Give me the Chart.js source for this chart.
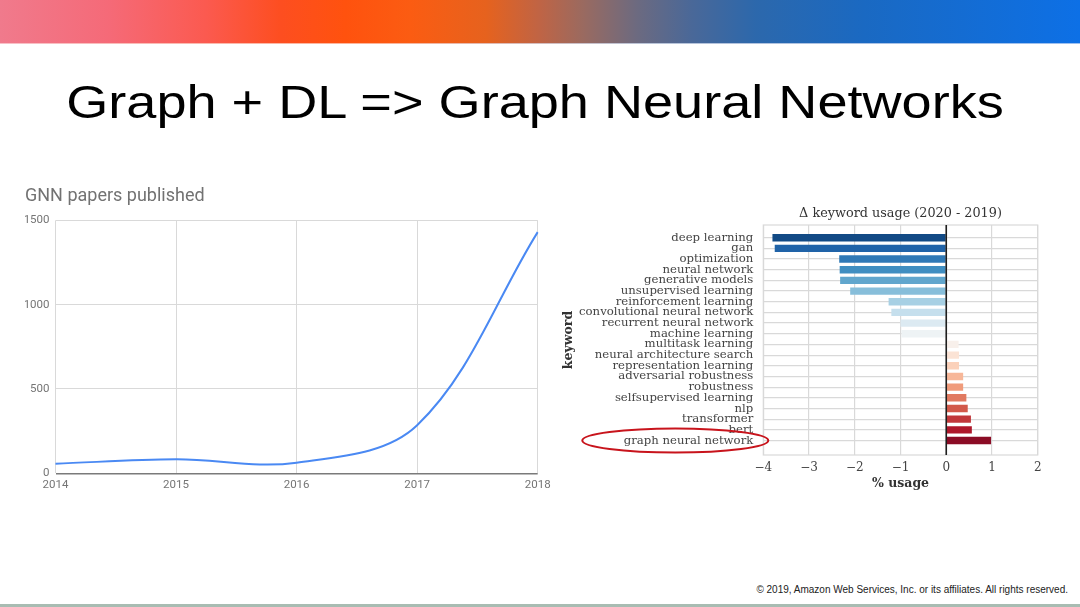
<!DOCTYPE html>
<html>
<head>
<meta charset="utf-8">
<script src="https://cdn.jsdelivr.net/npm/chart.js@4.4.1/dist/chart.umd.min.js"></script>
<style>
  body { margin: 0; background: #fff; }
  #slide { position: relative; width: 1080px; height: 607px; overflow: hidden; background: #fff; }
  #topbar { position: absolute; left: 0; top: 0; width: 1080px; height: 43px;
    background: linear-gradient(90deg, #f07a8c 0%, #f56a78 10%, #fb5a50 19%, #fd4e20 26%, #ff520e 32%, #fb5c12 38%,
      #e6621e 45%, #bf6445 50%, #9a6a60 54%, #6c6a80 59%, #4a6898 64%, #2c68ac 70%, #1a69c2 80%, #0d70e6 100%); }
  #topline { position: absolute; left: 0; top: 43px; width: 1080px; height: 1px;
    background: linear-gradient(90deg, #f8c0c8, #fcb59a 35%, #b9c4d8 60%, #9cc0f0); }
  #title { position: absolute; left: 0; width: 1070px; top: 79px; text-align: center;
    font-family: "Liberation Sans", Arial, sans-serif; font-size: 46px; line-height: 46px; color: #000;
    transform: scaleX(1.176); transform-origin: 535px 0; }
  #footer { position: absolute; right: 12px; top: 584px; font-family: "Liberation Sans", Arial, sans-serif;
    font-size: 10px; color: #222; }
  #bottomline { position: absolute; left: 0; top: 604px; width: 1080px; height: 3px; background: #a8bcb2; }
  #leftBox { position: absolute; left: 25px; top: 180px; width: 535px; height: 320px; }
  #rightBox { position: absolute; left: 555px; top: 200px; width: 495px; height: 300px; }
</style>
</head>
<body>
<div id="slide">
  <div id="topbar"></div>
  <div id="topline"></div>
  <div id="title">Graph + DL =&gt; Graph Neural Networks</div>
  <div id="leftBox"><canvas id="papersChart" width="535" height="320"></canvas></div>
  <div id="rightBox"><canvas id="keywordChart" width="495" height="300"></canvas></div>
  <div id="footer">© 2019, Amazon Web Services, Inc. or its affiliates. All rights reserved.</div>
  <div id="bottomline"></div>
</div>
<script>
// GNN papers per year
const years = ['2014', '2015', '2016', '2017', '2018'];
const papers = [57, 83, 63, 285, 1430];
const paperTicks = [0, 500, 1000, 1500];

// change in keyword usage, 2020 vs 2019
const keywords = [
  'deep learning',
  'gan',
  'optimization',
  'neural network',
  'generative models',
  'unsupervised learning',
  'reinforcement learning',
  'convolutional neural network',
  'recurrent neural network',
  'machine learning',
  'multitask learning',
  'neural architecture search',
  'representation learning',
  'adversarial robustness',
  'robustness',
  'selfsupervised learning',
  'nlp',
  'transformer',
  'bert',
  'graph neural network'
];
const deltaUsage = [-3.80, -3.75, -2.34, -2.33, -2.32, -2.10, -1.26, -1.20, -1.00, -0.98,
  0.27, 0.28, 0.28, 0.37, 0.37, 0.44, 0.47, 0.54, 0.56, 0.98];
const usageTicks = [-4, -3, -2, -1, 0, 1, 2];

// RdBu_r style colours, one per bar
const barColors = ['#124a85', '#2063a8', '#3079b6', '#408ec1', '#61a6cd', '#87beda', '#a7d0e4', '#c5dfed',
  '#dceaf2', '#eef3f5', '#f8f0eb', '#fbe3d5', '#fbd1ba', '#f7b799', '#f09b7b', '#e17a61', '#d2594a',
  '#c1373a', '#ae172a', '#8b0c25'];

//left chart : line
new Chart(document.getElementById('papersChart'), {
  type: 'line',
  data: {
    labels: years,
    datasets: [{
      data: papers,
      borderColor: '#4a89f3',
      borderWidth: 2,
      pointRadius: 0,
      tension: 0.35,
      fill: false
    }]
  },
  options: {
    responsive: false,
    animation: false,
    layout: { padding: { left: 0, right: 22.3, top: 0, bottom: 0 } },
    plugins: {
      legend: { display: false },
      tooltip: { enabled: false },
      title: {
        display: true,
        text: 'GNN papers published',
        align: 'start',
        color: '#727272',
        font: { family: 'Roboto', size: 18, weight: 'normal' },
        padding: { top: 6, bottom: 12.7 }
      }
    },
    scales: {
      x: {
        offset: false,
        grid: { color: '#d9d9d9', drawTicks: false, offset: false },
        border: { display: false },
        ticks: { color: '#757575', font: { family: 'Roboto', size: 11.5 }, padding: 5, maxRotation: 0 },
        afterFit: function(scale) { scale.height = 26.7; }
      },
      y: {
        min: 0,
        max: 1500,
        grid: {
          drawTicks: false,
          color: function(c) { return c.tick && c.tick.value === 0 ? '#7a7a7a' : '#d9d9d9'; },
          lineWidth: function(c) { return c.tick && c.tick.value === 0 ? 1.6 : 1; }
        },
        border: { display: false },
        afterBuildTicks: function(axis) { axis.ticks = paperTicks.map(v => ({ value: v })); },
        ticks: {
          color: '#757575',
          font: { family: 'Roboto', size: 11.5 },
          padding: 6,
          callback: v => String(v)
        },
        afterFit: function(scale) { scale.width = 30.5; }
      }
    }
  }
});

// frame, zero line, title and the red ring around the gnn label
const keywordExtras = {
  id: 'keywordExtras',
  beforeDatasetsDraw(chart) {
    const a = chart.chartArea;
    const ctx = chart.ctx;
    ctx.save();
    ctx.strokeStyle = '#d9d9d9';
    ctx.lineWidth = 1.2;
    ctx.strokeRect(a.left, a.top, a.right - a.left, a.bottom - a.top);
    ctx.restore();
  },
  afterDatasetsDraw(chart) {
    const a = chart.chartArea;
    const ctx = chart.ctx;
    const x0 = chart.scales.x.getPixelForValue(0);
    ctx.save();
    ctx.strokeStyle = '#1e1e1e';
    ctx.lineWidth = 1.6;
    ctx.beginPath();
    ctx.moveTo(x0, a.top);
    ctx.lineTo(x0, a.bottom);
    ctx.stroke();
    ctx.restore();
  },
  afterDraw(chart) {
    const a = chart.chartArea;
    const ctx = chart.ctx;
    ctx.save();
    ctx.fillStyle = '#333';
    ctx.font = '12.8px "DejaVu Serif"';
    ctx.textAlign = 'center';
    ctx.textBaseline = 'middle';
    ctx.fillText('\u0394 keyword usage (2020 - 2019)', (a.left + a.right) / 2, a.top - 11);
    // ring around the last label
    const yy = chart.scales.y.getPixelForValue(keywords.length - 1);
    ctx.strokeStyle = '#c8141c';
    ctx.lineWidth = 2;
    ctx.beginPath();
    ctx.ellipse(chart.scales.y.right - 88, yy, 93, 12, 0, 0, Math.PI * 2);
    ctx.stroke();
    ctx.restore();
  }
};

//right chart : horizontal bars
new Chart(document.getElementById('keywordChart'), {
  type: 'bar',
  data: {
    labels: keywords,
    datasets: [{
      data: deltaUsage.map((v, i) => ({ x: v, y: i })),
      backgroundColor: barColors,
      borderWidth: 0,
      categoryPercentage: 1,
      barPercentage: 0.69
    }]
  },
  options: {
    indexAxis: 'y',
    responsive: false,
    animation: false,
    layout: { padding: { left: 0, right: 12.3, top: 25, bottom: 0 } },
    plugins: {
      legend: { display: false },
      tooltip: { enabled: false }
    },
    scales: {
      x: {
        type: 'linear',
        min: -4,
        max: 2,
        grid: { color: '#d9d9d9', lineWidth: 1.2, drawTicks: false },
        border: { display: false },
        afterBuildTicks: function(axis) { axis.ticks = usageTicks.map(v => ({ value: v })); },
        ticks: {
          color: '#444',
          font: { family: 'DejaVu Serif', size: 12 },
          padding: 6,
          callback: v => (v < 0 ? '\u2212' + Math.abs(v) : String(v))
        },
        title: {
          display: true,
          text: '% usage',
          color: '#333',
          font: { family: 'DejaVu Serif', size: 12.5, weight: 'bold' },
          padding: { top: 0, bottom: 8.5 }
        },
        afterFit: function(scale) { scale.height = 45; }
      },
      y: {
        type: 'linear',
        reverse: true,
        min: -1.19,
        max: 20.36,
        offset: false,
        grid: { color: '#d9d9d9', lineWidth: 1.2, drawTicks: false, offset: false },
        border: { display: false },
        afterBuildTicks: function(axis) { axis.ticks = keywords.map((k, i) => ({ value: i })); },
        ticks: {
          autoSkip: false,
          color: '#444',
          font: { family: 'DejaVu Serif', size: 11.7 },
          padding: 10,
          callback: v => keywords[v]
        },
        title: {
          display: true,
          text: 'keyword',
          color: '#333',
          font: { family: 'DejaVu Serif', size: 12.5, weight: 'bold' },
          padding: { top: 6.5, bottom: 0 }
        },
        afterFit: function(scale) { scale.width = 208.3; }
      }
    }
  },
  plugins: [keywordExtras]
});
</script>
</body>
</html>
